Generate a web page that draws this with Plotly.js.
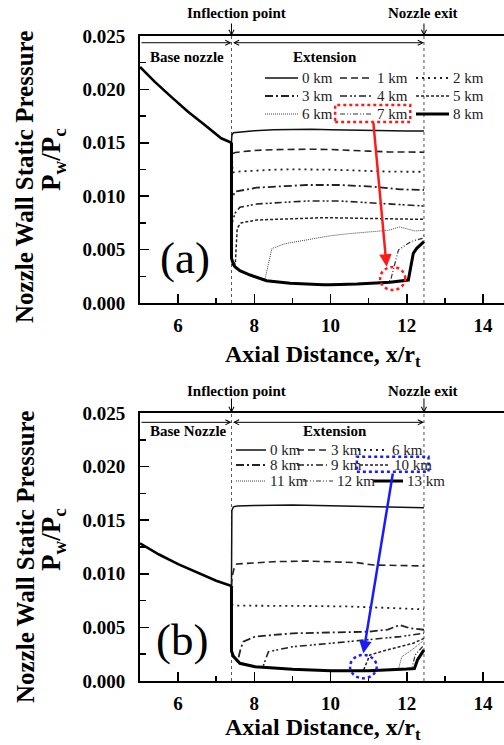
<!DOCTYPE html>
<html><head><meta charset="utf-8">
<script src="https://cdn.plot.ly/plotly-3.0.1.min.js"></script>
<style>html,body{margin:0;padding:0;background:#fff}#chart{width:504px;height:745px}</style>
</head><body><div id="chart"></div>
<script>
// ================= DATA : panel (a) =================
const labelsA = ['0 km','1 km','2 km','3 km','4 km','5 km','6 km','7 km','8 km'];
const baseXA = [5.0, 5.39, 5.82, 6.26, 6.70, 7.13, 7.40];
const baseYA = [0.0221, 0.0207, 0.0193, 0.0179, 0.01667, 0.01542, 0.0150];
const a0x = [7.40, 7.41, 7.45, 7.6, 8.0, 8.5, 9.0, 9.5, 10.0, 10.5, 11.0, 11.5, 12.0, 12.45];
const a0y = [0.0150, 0.0157, 0.01595, 0.0160, 0.01612, 0.01622, 0.01626, 0.01626, 0.01622, 0.01618, 0.01614, 0.0161, 0.0161, 0.0161];
const a1x = [7.40, 7.43, 7.5, 8.0, 8.5, 9.0, 9.5, 10.0, 10.5, 11.0, 11.5, 12.0, 12.45];
const a1y = [0.0150, 0.0140, 0.0141, 0.01428, 0.01436, 0.0144, 0.0144, 0.01437, 0.01432, 0.01422, 0.01415, 0.01412, 0.01412];
const a2x = [7.40, 7.43, 7.5, 8.0, 8.5, 9.0, 9.5, 10.0, 10.5, 11.0, 11.5, 12.0, 12.45];
const a2y = [0.0150, 0.0122, 0.01229, 0.0124, 0.01248, 0.01252, 0.01252, 0.01248, 0.01243, 0.01236, 0.0123, 0.01229, 0.01229];
const a3x = [7.40, 7.42, 7.49, 8.06, 9.37, 10.25, 11.12, 11.82, 12.45];
const a3y = [0.0150, 0.0098, 0.01042, 0.0108, 0.01105, 0.01105, 0.01089, 0.01064, 0.01058];
const a4x = [7.40, 7.42, 7.49, 7.62, 8.06, 9.37, 10.25, 11.12, 12.45];
const a4y = [0.0150, 0.0075, 0.0084, 0.00896, 0.00927, 0.00955, 0.00955, 0.00939, 0.00908];
const a5x = [7.40, 7.42, 7.50, 7.52, 7.55, 7.65, 8.06, 9.81, 11.12, 12.45];
const a5y = [0.0150, 0.0040, 0.0036, 0.0050, 0.0070, 0.0075, 0.00777, 0.00799, 0.0079, 0.00783];
const a6x = [7.40, 7.40, 7.45, 7.49, 7.62, 7.89, 8.28, 8.46, 8.8, 9.37, 10.0, 10.5, 11.12, 11.5, 11.82, 12.04, 12.2, 12.45];
const a6y = [0.0150, 0.0042, 0.0036, 0.0034, 0.00303, 0.00262, 0.00225, 0.0051, 0.00555, 0.0059, 0.0063, 0.0065, 0.00665, 0.0068, 0.00712, 0.00688, 0.00675, 0.0068];
const a7x = [7.40, 7.40, 7.45, 7.49, 7.62, 7.89, 8.32, 8.94, 9.81, 10.69, 11.50, 11.58, 11.78, 12.1, 12.4, 12.45];
const a7y = [0.0150, 0.0042, 0.0036, 0.0034, 0.00303, 0.00262, 0.00209, 0.00184, 0.00172, 0.00178, 0.00193, 0.0022, 0.00496, 0.00574, 0.00605, 0.0063];
const a8x = [7.40, 7.40, 7.45, 7.49, 7.62, 7.89, 8.32, 8.94, 9.81, 10.0, 10.69, 11.56, 12.04, 12.10, 12.17, 12.26, 12.45];
const a8y = [0.0150, 0.0042, 0.0036, 0.0034, 0.00303, 0.00262, 0.00209, 0.00184, 0.00172, 0.0017, 0.00178, 0.00195, 0.00215, 0.0034, 0.00465, 0.00512, 0.00574];

// ================= DATA : panel (b) =================
const labelsB = ['0 km','3 km','6 km','8 km','9 km','10 km','11 km','12 km','13 km'];
const baseXB = [5.0, 5.5, 6.0, 6.5, 7.0, 7.40];
const baseYB = [0.01284, 0.0118, 0.0109, 0.0101, 0.00935, 0.00886];
const b0x = [7.40, 7.41, 7.45, 7.55, 8.0, 8.5, 9.0, 10.0, 11.0, 12.0, 12.45];
const b0y = [0.00886, 0.0159, 0.01625, 0.01632, 0.01638, 0.01642, 0.01642, 0.01635, 0.01625, 0.01618, 0.01617];
const b3x = [7.40, 7.42, 7.47, 7.54, 8.5, 9.37, 10.69, 11.12, 12.45];
const b3y = [0.00886, 0.0098, 0.01051, 0.01091, 0.01113, 0.01119, 0.01104, 0.01082, 0.01073];
const b6x = [7.40, 7.42, 7.5, 8.5, 9.37, 10.5, 11.12, 12.0, 12.45];
const b6y = [0.00886, 0.0071, 0.00703, 0.00703, 0.0070, 0.00695, 0.00689, 0.00675, 0.00669];
const b8x = [7.40, 7.40, 7.45, 7.54, 7.58, 7.64, 7.71, 8.02, 9.01, 10.0, 11.0, 11.5, 11.82, 12.09, 12.45];
const b8y = [0.00886, 0.0028, 0.0023, 0.0019, 0.0021, 0.0030, 0.00367, 0.00414, 0.00445, 0.0045, 0.0046, 0.0048, 0.00522, 0.00491, 0.00478];
const b9x = [7.40, 7.40, 7.45, 7.54, 7.62, 8.02, 8.22, 8.37, 9.01, 10.01, 11.02, 11.82, 12.45];
const b9y = [0.00886, 0.0028, 0.0023, 0.0019, 0.00165, 0.00134, 0.00128, 0.00274, 0.0032, 0.00352, 0.00383, 0.00414, 0.00445];
const b10x = [7.40, 7.40, 7.45, 7.54, 7.62, 8.02, 9.0, 10.0, 10.86, 11.03, 11.47, 12.17, 12.45];
const b10y = [0.00886, 0.0028, 0.0023, 0.0019, 0.00165, 0.00134, 0.00109, 0.00096, 0.00096, 0.00243, 0.00289, 0.00352, 0.00398];
const b11x = [7.40, 7.40, 7.45, 7.54, 7.62, 8.02, 9.0, 10.0, 11.0, 11.78, 11.87, 12.13, 12.45];
const b11y = [0.00886, 0.0028, 0.0023, 0.0019, 0.00165, 0.00134, 0.00109, 0.00096, 0.00097, 0.0011, 0.00227, 0.00289, 0.0038];
const b12x = [7.40, 7.40, 7.45, 7.54, 7.62, 8.02, 9.0, 10.0, 11.0, 12.0, 12.13, 12.22, 12.45];
const b12y = [0.00886, 0.0028, 0.0023, 0.0019, 0.00165, 0.00134, 0.00109, 0.00096, 0.00097, 0.00112, 0.00115, 0.00243, 0.00336];
const b13x = [7.40, 7.40, 7.45, 7.54, 7.62, 8.02, 9.0, 10.0, 11.0, 12.0, 12.2, 12.28, 12.38, 12.45];
const b13y = [0.00886, 0.0028, 0.0023, 0.0019, 0.00165, 0.00134, 0.00109, 0.00096, 0.00096, 0.00112, 0.00117, 0.00196, 0.0025, 0.0029];

// tick values
const xTicks = [6, 8, 10, 12, 14];
const yTicks = [0.000, 0.005, 0.010, 0.015, 0.020, 0.025];

// ================= STYLES =================
const dashes = ['solid', '7px,4px', '2px,4px', '8px,3px,2px,3px', '7px,3px,2px,2px,2px,3px', '3px,2px', '1px,1px', '5px,2px,1px,2px,1px,2px', 'solid'];
const widths = [1.5, 1.6, 1.8, 1.8, 1.6, 1.5, 1.0, 1.2, 3.0];
const colors = ['#111', '#222', '#222', '#222', '#222', '#222', '#444', '#333', '#000'];
const FONT = 'Liberation Serif, Times New Roman, serif';

const seriesA = [[a0x,a0y],[a1x,a1y],[a2x,a2y],[a3x,a3y],[a4x,a4y],[a5x,a5y],[a6x,a6y],[a7x,a7y],[a8x,a8y]];
const seriesB = [[b0x,b0y],[b3x,b3y],[b6x,b6y],[b8x,b8y],[b9x,b9y],[b10x,b10y],[b11x,b11y],[b12x,b12y],[b13x,b13y]];

const traces = [];
function addPanel(series, labels, baseX, baseY, xa, ya) {
  series.forEach((s, i) => {
    traces.push({x: s[0], y: s[1], name: labels[i], xaxis: xa, yaxis: ya, mode: 'lines',
      line: {color: colors[i], width: widths[i], dash: dashes[i]}, showlegend: false, hoverinfo: 'skip'});
  });
  traces.push({x: baseX, y: baseY, name: 'base', xaxis: xa, yaxis: ya, mode: 'lines',
    line: {color: '#000', width: 2.6}, showlegend: false, hoverinfo: 'skip'});
}
addPanel(seriesA, labelsA, baseXA, baseYA, 'x', 'y');
addPanel(seriesB, labelsB, baseXB, baseYB, 'x2', 'y2');

const W = 504, H = 745;
const PX = p => p / W, PY = p => 1 - p / H;

function axisX(anchor) {
  return {anchor: anchor, domain: [PX(140), 1], range: [5, 14.55],
    tickmode: 'array', tickvals: xTicks, ticktext: xTicks.map(String),
    ticks: 'inside', ticklen: 9, tickwidth: 1.5, tickcolor: '#000',
    minor: {dtick: 1, tick0: 5, ticks: 'inside', ticklen: 5, tickwidth: 1.5, tickcolor: '#000'},
    showline: true, linewidth: 2, linecolor: '#000', mirror: true,
    showgrid: false, zeroline: false, ticklabelstandoff: 4,
    tickfont: {family: FONT, size: 19, color: '#000', weight: 'bold'}};
}
function axisY(anchor, d0, d1) {
  return {anchor: anchor, domain: [d0, d1], range: [0, 0.025],
    tickmode: 'array', tickvals: yTicks, ticktext: yTicks.map(v => v.toFixed(3)),
    ticks: 'inside', ticklen: 9, tickwidth: 1.5, tickcolor: '#000',
    minor: {dtick: 0.0025, tick0: 0, ticks: 'inside', ticklen: 6, tickwidth: 1.5, tickcolor: '#000'},
    showline: true, linewidth: 2, linecolor: '#000', mirror: false,
    showgrid: false, zeroline: false, ticklabelstandoff: 9,
    tickfont: {family: FONT, size: 19, color: '#000', weight: 'bold'}};
}

const shapes = [];
const annotations = [];
function txt(text, x, y, size, opts) {
  annotations.push(Object.assign({text: text, x: x, y: y, xref: 'paper', yref: 'paper', showarrow: false,
    xanchor: 'center', yanchor: 'middle', font: {family: FONT, size: size, color: '#000', weight: 'bold'}}, opts || {}));
}

// panel decorations
function decorate(xr, yr, p) {
  [7.4, 12.45].forEach(v => shapes.push({type: 'line', xref: xr, yref: yr, x0: v, x1: v, y0: 0, y1: 0.025,
    line: {color: '#555', width: 1, dash: 'dot'}, layer: 'below'}));
  txt('Inflection point', PX(236), PY(p.labY), 15);
  txt('Nozzle exit', PX(423), PY(p.labY), 15);
  [7.4, 12.45].forEach(v => annotations.push({x: v, y: 0.025, xref: xr, yref: yr, text: '', showarrow: true,
    ax: 0, ay: -(p.arrLen), arrowhead: 5, arrowsize: 1, arrowwidth: 1, arrowcolor: '#000', standoff: 0}));
  annotations.push({x: 7.4, y: p.dblY, ax: 5.0, ay: p.dblY, xref: xr, yref: yr, axref: xr, ayref: yr, text: '',
    showarrow: true, arrowhead: 5, arrowsize: 1, arrowwidth: 1, arrowcolor: '#000', standoff: 0});
  annotations.push({x: 12.45, y: p.dblY, ax: 7.4, ay: p.dblY, xref: xr, yref: yr, axref: xr, ayref: yr, text: '',
    showarrow: true, arrowhead: 5, startarrowhead: 5, arrowside: 'end+start', arrowsize: 1, startarrowsize: 1,
    arrowwidth: 1, arrowcolor: '#000', standoff: 0, startstandoff: 0});
  txt(p.baseLabel, PX(148), PY(p.secY), 15, {xanchor: 'left'});
  txt('Extension', PX(p.extX), PY(p.secY), 15);
  txt(p.letter, PX(p.letX), PY(p.letY), 45, {font: {family: FONT, size: 45, color: '#000'}});
  txt('Axial Distance, x/r<sub>t</sub>', PX(323), PY(p.xtY), 24);
  txt('Nozzle Wall Static Pressure', PX(25), PY(p.yt1), 25, {textangle: -90});
  txt('P<sub>w</sub>/P<sub>c</sub>', PX(53), PY(p.yt2), 27, {textangle: -90});
}
decorate('x', 'y', {labY: 13, arrLen: 14, dblY: 0.02437, baseLabel: 'Base nozzle', secY: 57, extX: 325,
  letter: '(a)', letX: 185, letY: 258, xtY: 356, yt1: 177, yt2: 160});
decorate('x2', 'y2', {labY: 391, arrLen: 16, dblY: 0.02413, baseLabel: 'Base Nozzle', secY: 431, extX: 335,
  letter: '(b)', letX: 182, letY: 640, xtY: 729, yt1: 557, yt2: 540});

// manual legends
function legend(labels, x0s, rows, len) {
  labels.forEach((lab, i) => {
    const r = Math.floor(i / 3), c = i % 3;
    const x0 = x0s[r][c], y = rows[r];
    shapes.push({type: 'line', xref: 'paper', yref: 'paper', x0: PX(x0), x1: PX(x0 + len), y0: PY(y), y1: PY(y),
      line: {color: colors[i], width: widths[i], dash: dashes[i]}});
    annotations.push({text: lab, x: PX(x0 + len + 2), y: PY(y), xref: 'paper', yref: 'paper', showarrow: false,
      xanchor: 'left', yanchor: 'middle', font: {family: FONT, size: 15, color: '#222'}});
  });
}
legend(labelsA, [[265, 340, 416], [265, 340, 416], [265, 340, 416]], [78, 96, 114], 33);
legend(labelsB, [[236, 297, 358], [236, 297, 360], [236, 303, 373]], [450, 465, 481], 30);

// highlights
shapes.push({type: 'rect', xref: 'x', yref: 'y', x0: 10.12, x1: 12.09, y0: 0.01695, y1: 0.01854,
  line: {color: '#ff1a1a', width: 2.5, dash: 'dot'}});
shapes.push({type: 'circle', xref: 'x', yref: 'y', x0: 11.30, x1: 11.96, y0: 0.00122, y1: 0.00337,
  line: {color: '#ff1a1a', width: 2.5, dash: 'dot'}});
annotations.push({x: 11.47, y: 0.0034, ax: 11.12, ay: 0.0170, xref: 'x', yref: 'y', axref: 'x', ayref: 'y', text: '',
  showarrow: true, arrowhead: 2, arrowsize: 1, arrowwidth: 2.5, arrowcolor: '#ff1a1a', standoff: 0});
shapes.push({type: 'rect', xref: 'x2', yref: 'y2', x0: 10.69, x1: 12.57, y0: 0.01952, y1: 0.02092,
  line: {color: '#1a1aff', width: 2.5, dash: 'dot'}});
shapes.push({type: 'circle', xref: 'x2', yref: 'y2', x0: 10.51, x1: 11.21, y0: 0.00025, y1: 0.00243,
  line: {color: '#1a1aff', width: 2.5, dash: 'dot'}});
annotations.push({x: 10.86, y: 0.00258, ax: 11.64, ay: 0.0195, xref: 'x2', yref: 'y2', axref: 'x2', ayref: 'y2', text: '',
  showarrow: true, arrowhead: 2, arrowsize: 1, arrowwidth: 2.5, arrowcolor: '#1a1aff', standoff: 0});

const layout = {
  width: W, height: H, margin: {l: 0, r: 0, t: 0, b: 0},
  paper_bgcolor: '#fff', plot_bgcolor: '#fff', showlegend: false,
  xaxis: axisX('y'), yaxis: axisY('x', PY(303), PY(36)),
  xaxis2: axisX('y2'), yaxis2: axisY('x2', PY(681), PY(413)),
  shapes: shapes, annotations: annotations
};
Plotly.newPlot('chart', traces, layout, {staticPlot: true, displayModeBar: false});
</script></body></html>
